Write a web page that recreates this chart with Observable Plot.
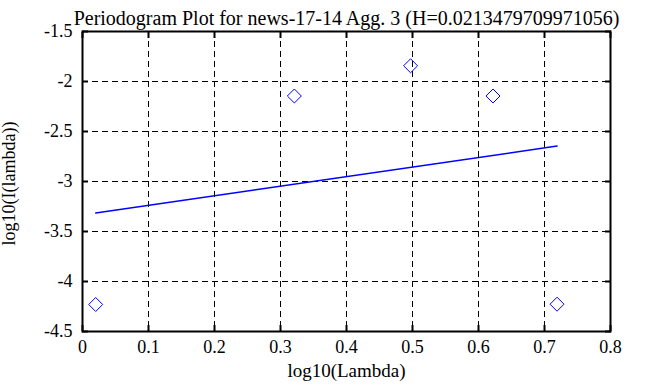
<!DOCTYPE html>
<html>
<head>
<meta charset="utf-8">
<script src="https://cdn.jsdelivr.net/npm/d3@7"></script>
<script src="https://cdn.jsdelivr.net/npm/@observablehq/plot@0.6"></script>
<style>
  html, body { margin: 0; padding: 0; background: #fff; }
  svg { display: block; }
  svg text { font-family: "Liberation Serif", "Times New Roman", serif; }
</style>
</head>
<body>
<div id="chart"></div>
<script>
// Data
const logLambda = [0.0200, 0.3210, 0.4971, 0.6220, 0.7190];
const logI = [-4.23, -2.145, -1.843, -2.145, -4.227];
const fitX = [0.0200, 0.7190];
const fitY = [-3.315, -2.646];
const xTicks = [0, 0.1, 0.2, 0.3, 0.4, 0.5, 0.6, 0.7, 0.8];
const yTicks = [-1.5, -2, -2.5, -3, -3.5, -4, -4.5];
const titleText = "Periodogram Plot for news-17-14 Agg. 3 (H=0.0213479709971056)";
const xLabel = "log10(Lambda)";
const yLabel = "log10(I(lambda))";

const points = logLambda.map((x, i) => ({x, y: logI[i]}));
const fit = fitX.map((x, i) => ({x, y: fitY[i]}));
const fmt = d => String(d);
const font = "Liberation Serif, Times New Roman, serif";

const chart = Plot.plot({
  width: 658,
  height: 387,
  marginLeft: 82,
  marginRight: 48,
  marginTop: 31,
  marginBottom: 56,
  style: {fontFamily: font, fontSize: "18px", color: "#000", background: "#fff"},
  x: {domain: [0, 0.8], ticks: xTicks, label: null},
  y: {domain: [-4.5, -1.5], ticks: yTicks, label: null},
  marks: [
    Plot.gridX(xTicks, {stroke: "#000", strokeOpacity: 1, strokeDasharray: "6,4", strokeWidth: 1}),
    Plot.gridY(yTicks, {stroke: "#000", strokeOpacity: 1, strokeDasharray: "6,4", strokeWidth: 1}),
    // inward ticks on all four sides
    Plot.axisX(xTicks, {anchor: "bottom", tickSize: 6, dy: -6, text: null, strokeWidth: 2}),
    Plot.axisX(xTicks, {anchor: "top", tickSize: 6, dy: 6, text: null, strokeWidth: 2}),
    Plot.axisY(yTicks, {anchor: "left", tickSize: 6, dx: 6, text: null, strokeWidth: 2}),
    Plot.axisY(yTicks, {anchor: "right", tickSize: 6, dx: -6, text: null, strokeWidth: 2}),
    // tick labels
    Plot.axisX(xTicks, {anchor: "bottom", tickSize: 0, tickPadding: 9, tickFormat: fmt, fontSize: 18, fontFamily: font, label: null}),
    Plot.axisY(yTicks, {anchor: "left", tickSize: 0, tickPadding: 10, tickFormat: fmt, fontSize: 18, fontFamily: font, label: null}),
    Plot.frame({stroke: "#000", strokeWidth: 2}),
    Plot.line(fit, {x: "x", y: "y", stroke: "#0000ff", strokeWidth: 1.5}),
    Plot.dot(points, {x: "x", y: "y", symbol: "diamond2", r: 6.3, stroke: "#0000ff", strokeWidth: 1, fill: "none"}),
    Plot.text([titleText], {frameAnchor: "top", dy: -21, text: d => d, fontSize: 20, fontFamily: font, fill: "#000"}),
    Plot.text([xLabel], {frameAnchor: "bottom", dy: 45, text: d => d, fontSize: 19, fontFamily: font, fill: "#000"}),
    Plot.text([yLabel], {frameAnchor: "left", textAnchor: "middle", dx: -73, dy: 2, rotate: -90, text: d => d, fontSize: 18, fontFamily: font, fill: "#000"})
  ]
});
document.getElementById("chart").appendChild(chart);
</script>
</body>
</html>
